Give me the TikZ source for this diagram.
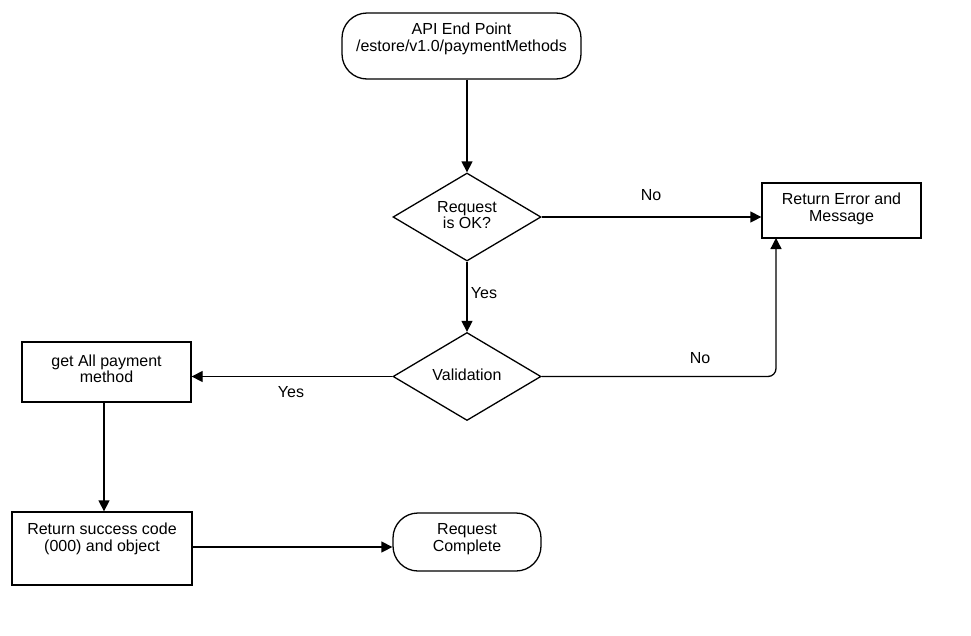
\documentclass[tikz,border=0pt]{standalone}
\usepackage{fontspec}
\setmainfont{Liberation Sans}
\usetikzlibrary{arrows.meta,shapes.geometric}
\begin{document}
\begin{tikzpicture}[x=1pt,y=-1pt,
  every node/.style={font=\fontsize{16}{16.5}\selectfont, align=center, inner sep=0pt},
  boxed/.style={draw, line width=1.3pt},
  term/.style={draw, line width=1.3pt, rounded corners=25pt},
  dec/.style={draw, line width=1.3pt, diamond, aspect=1.68, minimum width=148pt, minimum height=88pt, inner sep=0pt},
  conn/.style={line width=1.3pt, -{Triangle[length=11pt,width=11pt]}},
  lbl/.style={font=\fontsize{16}{16.5}\selectfont}]
\useasboundingbox (0,0) rectangle (971,635);
\fill[white] (0,0) rectangle (971,635);
% nodes
\node[term, minimum width=239pt, minimum height=66pt] (api) at (461.5,46) {};
\node (apit) at (461.5,39) {API End Point\\/estore/v1.0/paymentMethods};
\node[dec] (req) at (467,217) {};
\node (reqt) at (467,215) {Request\\is OK?};
\node[boxed, minimum width=159pt, minimum height=55pt] (err) at (841.5,210.5) {};
\node (errt) at (841.5,209) {Return Error and\\Message};
\node[dec] (val) at (467,376.5) {};
\node (valt) at (467,375) {Validation};
\node[boxed, minimum width=169pt, minimum height=60pt] (get) at (106.5,372) {};
\node (gett) at (106.5,369) {get All payment\\method};
\node[boxed, minimum width=180pt, minimum height=73pt] (ret) at (102,548.5) {};
\node (rett) at (102,539) {Return success code\\(000) and object};
\node[term, minimum width=148pt, minimum height=58pt] (done) at (467,542) {};
\node (donet) at (467,539) {Request\\Complete};
% connectors
\draw[conn] (api.south -| req.north) -- (req.north);
\draw[conn] (req.east) -- (err.west |- req.east);
\node[lbl] (l1) at (651,195) {No};
\draw[conn] (req.south) -- (val.north);
\node[lbl] (l2) at (484,293) {Yes};
\draw[conn, rounded corners=8pt] (val.east) -- (776,376.5) -- (776,238);
\node[lbl] (l3) at (700,358) {No};
\draw[conn] (val.west) -- (get.east |- val.west);
\node[lbl] (l4) at (291,392) {Yes};
\draw[conn] (get.south -| 104,0) -- (ret.north -| 104,0);
\draw[conn] (ret.east |- 0,547) -- (done.west |- 0,547);
\end{tikzpicture}
\end{document}
